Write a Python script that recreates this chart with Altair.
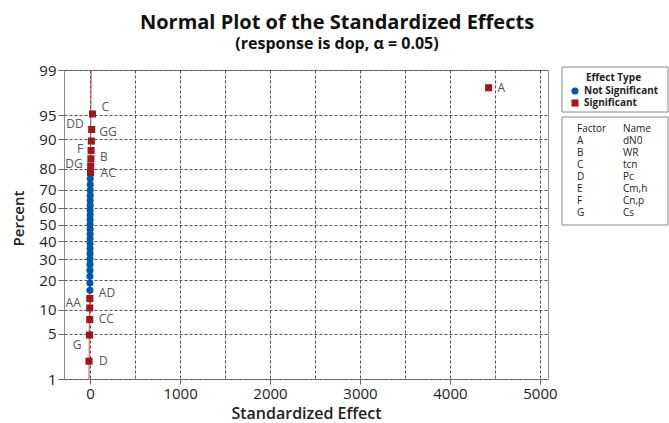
import altair as alt
import pandas as pd
from statistics import NormalDist

# ---------------- data ----------------
SIG_TERMS = ["A", "C", "DD", "GG", "F", "B", "DG", "AC", "AD", "AA", "CC", "G", "D"]
SIG_EFFECTS = [4430, 27, 18, 14, 11, 9, 7, 5, -3, -3.5, -4, -6, -12]
NS_TERMS = ["E", "BB", "EE", "FF", "AB", "AE", "AF", "AG", "BC", "BD", "BE",
            "BF", "BG", "CD", "CE", "CF", "CG", "DE", "DF", "EF", "EG", "FG"]
NS_EFFECTS = [1.9, -1.8, 0.4, -0.7, 1.3, -1.2, 0.2, 0.9, -0.3, 1.6, -1.5,
              0.6, -0.1, 1.1, -0.9, 0.05, -2.1, 1.4, -0.5, 0.7, -1.0, 0.3]

LINE_EFFECT = [-12, 12]
LINE_PCT = [1, 99]

FACTORS = ["A", "B", "C", "D", "E", "F", "G"]
NAMES = ["dN0", "WR", "tcn", "Pc", "Cm,h", "Cn,p", "Cs"]

PCT_TICKS = [1, 5, 10, 20, 30, 40, 50, 60, 70, 80, 90, 95, 99]
X_TICKS = [0, 500, 1000, 1500, 2000, 2500, 3000, 3500, 4000, 4500, 5000]
X_DOMAIN = [-290, 5090]

# label placement (style): dx, dy in pixels
LABEL_OFFSETS = {
    "A": (9, 0), "C": (9, -7), "DD": (-8, -5), "GG": (8, -9), "F": (-8, -2),
    "B": (9, -2), "DG": (-8, -2), "AC": (10, 0), "AD": (9, -5), "AA": (-9, -5),
    "CC": (9, -1), "G": (-8, 10), "D": (10, 0),
}

BLUE = "#0057A8"
RED = "#A3161B"
FONT = "Open Sans"

nd = NormalDist()
Z_TICKS = [nd.inv_cdf(p / 100) for p in PCT_TICKS]
Y_DOMAIN = [Z_TICKS[0], Z_TICKS[-1]]

df = pd.DataFrame({
    "term": SIG_TERMS + NS_TERMS,
    "effect": SIG_EFFECTS + NS_EFFECTS,
    "type": ["Significant"] * len(SIG_TERMS) + ["Not Significant"] * len(NS_TERMS),
})

base = (
    alt.Chart(df)
    .transform_window(rank="row_number()", sort=[alt.SortField("effect", order="ascending")])
    .transform_joinaggregate(n="count()")
    .transform_calculate(z="quantileNormal((datum.rank - 0.3) / (datum.n + 0.4))")
)

x_enc = alt.X(
    "effect:Q",
    scale=alt.Scale(domain=X_DOMAIN, nice=False, zero=False),
    axis=alt.Axis(
        values=X_TICKS,
        labelExpr="datum.value % 1000 === 0 ? datum.label : ''",
        format="d",
        title="Standardized Effect",
        grid=True,
        gridDash=[3, 2],
        gridColor="#555555",
        gridOpacity=1,
        domain=False,
        tickColor={"condition": {"test": "datum.value % 1000 !== 0", "value": "transparent"}, "value": "#666666"},
        tickSize=5,
        labelFontSize=15,
        labelColor="#222222",
        labelPadding=2,
        titleFontSize=16,
        titleFontWeight=600,
        titleColor="#222222",
        titlePadding=4,
    ),
)

y_enc = alt.Y(
    "z:Q",
    scale=alt.Scale(domain=Y_DOMAIN, nice=False, zero=False),
    axis=alt.Axis(
        values=Z_TICKS,
        labelExpr="round(cumulativeNormal(datum.value) * 100)",
        title="Percent",
        grid=True,
        gridDash=[3, 2],
        gridColor="#555555",
        gridOpacity=1,
        domain=False,
        tickColor="#666666",
        tickSize=6,
        labelFontSize=15,
        labelColor="#222222",
        labelPadding=2,
        titleFontSize=15,
        titleFontWeight=600,
        titleColor="#222222",
        titlePadding=12,
        titleY=148,
    ),
)

line_df = pd.DataFrame({"effect": LINE_EFFECT, "pct": LINE_PCT})
line = (
    alt.Chart(line_df)
    .transform_calculate(z="quantileNormal(datum.pct / 100)")
    .mark_line(color="#C8484A", strokeWidth=1, clip=True)
    .encode(x=x_enc, y=y_enc)
)

points = base.mark_point(filled=True, opacity=1, size=50).encode(
    x=x_enc,
    y=y_enc,
    color=alt.Color(
        "type:N",
        scale=alt.Scale(domain=["Not Significant", "Significant"], range=[BLUE, RED]),
        legend=alt.Legend(
            title=None,
            orient="none",
            legendX=506,
            legendY=16,
            labelFontSize=10,
            labelFontWeight="bold",
            labelColor="#222222",
            symbolSize=50,
            rowPadding=2,
            padding=0,
        ),
    ),
    shape=alt.Shape(
        "type:N",
        scale=alt.Scale(domain=["Not Significant", "Significant"], range=["circle", "square"]),
        legend=alt.Legend(title=None),
    ),
)

labels = []
for term, (dx, dy) in LABEL_OFFSETS.items():
    labels.append(
        base.transform_filter(alt.datum.term == term)
        .mark_text(align="left" if dx > 0 else "right", baseline="middle",
                   dx=dx, dy=dy, fontSize=12, color="#555555", font=FONT)
        .encode(x=x_enc, y=y_enc, text="term:N")
    )

main = alt.layer(line, points, *labels)

box_df = pd.DataFrame({"b": [0]})
box1 = alt.Chart(box_df).mark_rect(fill="white", stroke="#888888", strokeWidth=1).encode(
    x=alt.value(498), x2=alt.value(604), y=alt.value(-3), y2=alt.value(42)
)
box2 = alt.Chart(box_df).mark_rect(fill="white", stroke="#888888", strokeWidth=1).encode(
    x=alt.value(498), x2=alt.value(604), y=alt.value(47), y2=alt.value(155)
)
legend_title = alt.Chart(pd.DataFrame({"t": ["Effect Type"]})).mark_text(
    align="left", baseline="middle", fontSize=10, fontWeight="bold", color="#222222", font=FONT
).encode(x=alt.value(522), y=alt.value(8), text="t:N")

table_df = pd.DataFrame({
    "row": list(range(len(FACTORS) + 1)),
    "factor": ["Factor"] + FACTORS,
    "name": ["Name"] + NAMES,
})
row_y = alt.Y("row:Q", scale=alt.Scale(domain=[0, len(FACTORS)], range=[59, 143]), axis=None)
t_factor = alt.Chart(table_df).mark_text(align="left", baseline="middle", fontSize=10,
                                         color="#222222", font=FONT).encode(
    x=alt.value(513), y=row_y, text="factor:N")
t_name = alt.Chart(table_df).mark_text(align="left", baseline="middle", fontSize=10,
                                       color="#222222", font=FONT).encode(
    x=alt.value(559), y=row_y, text="name:N")

table = alt.layer(box1, box2, legend_title, t_factor, t_name)

chart = (
    alt.layer(main, table)
    .resolve_scale(y="independent")
    .properties(
        width=484,
        height=309,
        autosize=alt.AutoSizeParams(type="none"),
        padding={"left": 64, "top": 70, "right": 121, "bottom": 44},
        title=alt.TitleParams(
            text="Normal Plot of the Standardized Effects",
            subtitle="(response is dop, α = 0.05)",
            anchor="middle",
            frame="group",
            dx=31,
            fontSize=20,
            fontWeight="bold",
            color="#111111",
            subtitleFontSize=16,
            subtitleFontWeight="bold",
            subtitleColor="#111111",
            subtitlePadding=3,
            offset=11,
            font=FONT,
            subtitleFont=FONT,
        ),
    )
    .configure(font=FONT, background="white")
    .configure_view(stroke="#8C8C8C", strokeWidth=1)
)

chart.save("out.html", embed_options={"renderer": "svg", "actions": False})
